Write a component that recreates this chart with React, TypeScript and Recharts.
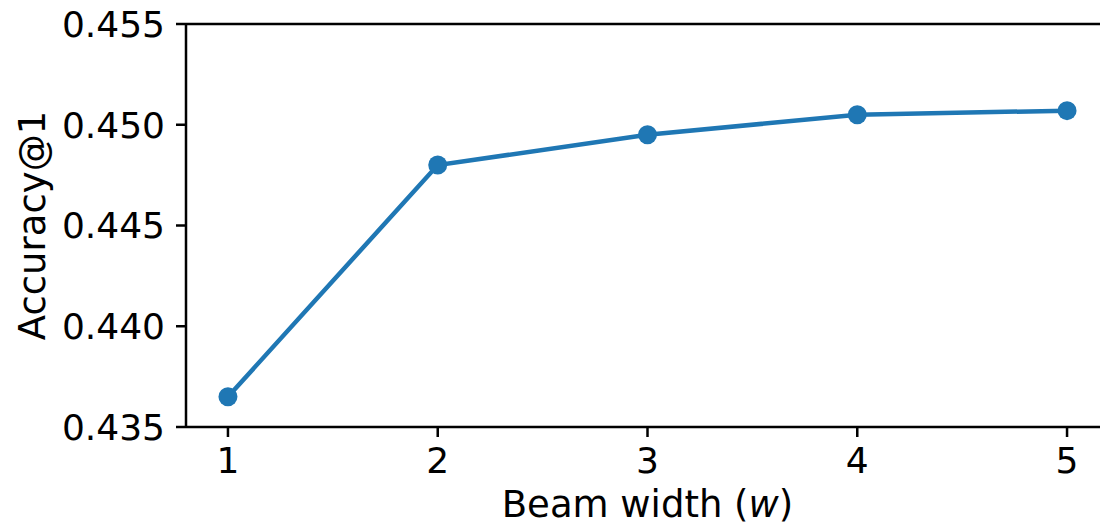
import React from 'react';
import { LineChart, Line, XAxis, YAxis, ReferenceLine, Label } from 'recharts';

const beamWidths = [1, 2, 3, 4, 5];
const accuracyAt1 = [0.4365, 0.448, 0.4495, 0.4505, 0.4507];
const xTicks = [1, 2, 3, 4, 5];
const yTicks = [0.435, 0.44, 0.445, 0.45, 0.455];

const data = beamWidths.map((w, i) => ({ w, acc: accuracyAt1[i] }));

const BLUE = '#1f77b4';
const FONT = 'DejaVu Sans, sans-serif';
const W = 1120;
const H = 525;
const M = { top: 24, right: 11, bottom: 0, left: 0 };
const Y_AXIS_W = 186;
const X_AXIS_H = 98;

const tickStyle = { fill: '#000', fontSize: 36, fontFamily: FONT };
const spine = { stroke: '#000', strokeWidth: 2.5 };

export default function App() {
  const plotTop = M.top;
  const plotBottom = H - M.bottom - X_AXIS_H;
  const plotLeft = M.left + Y_AXIS_W;
  const plotRight = W - M.right;

  return (
    <div style={{ position: 'absolute', left: 0, top: 0, width: 1100, height: 525, overflow: 'hidden', background: '#fff' }}>
      <LineChart width={W} height={H} data={data} margin={M}>
        <XAxis
          dataKey="w"
          type="number"
          domain={[0.8, 5.2]}
          ticks={xTicks}
          allowDataOverflow
          height={X_AXIS_H}
          axisLine={spine}
          tickLine={spine}
          tickSize={10}
          tickMargin={10}
          tick={tickStyle}
        >
          <Label
            content={() => (
              <text
                x={(plotLeft + plotRight) / 2}
                y={517}
                textAnchor="middle"
                fontSize={37}
                fontFamily={FONT}
                fill="#000"
              >
                Beam width (<tspan fontStyle="italic">w</tspan>)
              </text>
            )}
          />
        </XAxis>
        <YAxis
          type="number"
          domain={[0.435, 0.455]}
          ticks={yTicks}
          allowDataOverflow
          width={Y_AXIS_W}
          axisLine={spine}
          tickLine={spine}
          tickSize={10}
          tickMargin={11}
          tick={tickStyle}
          tickFormatter={(v: number) => v.toFixed(3)}
        >
          <Label
            content={() => {
              const cy = (plotTop + plotBottom) / 2;
              return (
                <text
                  x={45}
                  y={cy}
                  transform={`rotate(-90, 45, ${cy})`}
                  textAnchor="middle"
                  fontSize={37}
                  fontFamily={FONT}
                  fill="#000"
                >
                  Accuracy@1
                </text>
              );
            }}
          />
        </YAxis>
        <ReferenceLine y={0.455} stroke="#000" strokeWidth={2.5} />
        <ReferenceLine x={5.2} stroke="#000" strokeWidth={2.5} />
        <Line
          type="linear"
          dataKey="acc"
          stroke={BLUE}
          strokeWidth={4.5}
          dot={{ r: 9.5, fill: BLUE, stroke: BLUE, strokeWidth: 0 }}
          activeDot={false}
          isAnimationActive={false}
        />
      </LineChart>
    </div>
  );
}
